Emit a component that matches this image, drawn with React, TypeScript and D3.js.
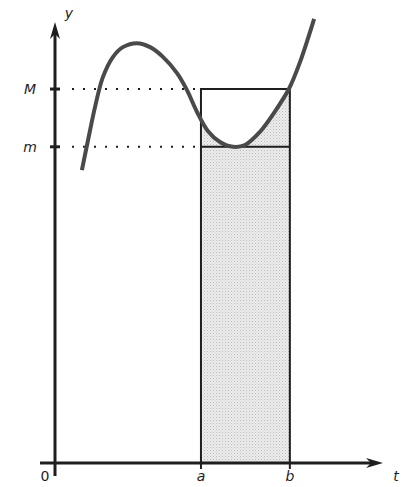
import * as d3 from "d3";
import { useEffect, useRef } from "react";

// curve (t, y) in chart units 0..100
const curveT = [8.2, 10.7, 12.2, 14.6, 17.7, 20.7, 25.0, 29.0, 32.9, 37.2, 40.2, 43.3, 46.6, 50.3, 54.3, 57.9, 62.5, 66.5, 71.3, 74.7, 79.0];
const curveY = [66.4, 75.5, 80.7, 87.5, 92.1, 94.3, 95.2, 94.3, 92.1, 88.4, 84.6, 79.6, 75.3, 72.8, 71.7, 72.1, 75.1, 79.1, 84.8, 90.9, 100.7];

const bounds = { a: 44.5, b: 71.6 };
const levels = { m: 71.7, M: 84.8 };
const xLabels = [["0", 0], ["a", bounds.a], ["b", bounds.b]] as const;
const yLabels = [["M", levels.M], ["m", levels.m]] as const;

export default function App() {
	const ref = useRef<SVGSVGElement>(null);

	useEffect(() => {
		const svg = d3.select(ref.current);
		svg.selectAll("*").remove();

		const x = d3.scaleLinear().domain([0, 100]).range([55, 383]);
		const y = d3.scaleLinear().domain([0, 100]).range([463, 22]);
		const ink = "#1e1e1e";
		const font = "'DejaVu Sans', sans-serif";
		const data = curveT.map((t, i) => [t, curveY[i]] as [number, number]);

		const defs = svg.append("defs");
		defs.append("clipPath").attr("id", "ab")
			.append("rect")
			.attr("x", x(bounds.a)).attr("y", 0)
			.attr("width", x(bounds.b) - x(bounds.a)).attr("height", y(0));
		const pat = defs.append("pattern").attr("id", "stipple")
			.attr("width", 3).attr("height", 3).attr("patternUnits", "userSpaceOnUse");
		pat.append("rect").attr("width", 3).attr("height", 3).attr("fill", "#ececec");
		pat.append("rect").attr("width", 1).attr("height", 1).attr("fill", "#bdbdbd");
		pat.append("rect").attr("x", 1.5).attr("y", 1.5).attr("width", 1).attr("height", 1).attr("fill", "#cfcfcf");

		// shaded area under the curve between a and b
		const area = d3.area<[number, number]>()
			.x(d => x(d[0])).y0(y(0)).y1(d => y(d[1]))
			.curve(d3.curveCatmullRom);
		svg.append("path").datum(data)
			.attr("d", area).attr("fill", "url(#stipple)")
			.attr("clip-path", "url(#ab)");

		// dotted guides
		[levels.M, levels.m].forEach(v => {
			svg.append("line")
				.attr("x1", x(0) + 17).attr("x2", x(bounds.a) - 3)
				.attr("y1", y(v)).attr("y2", y(v))
				.attr("stroke", ink).attr("stroke-width", 2)
				.attr("stroke-dasharray", "2 9").attr("stroke-linecap", "butt");
		});

		// rectangle
		const rect = d3.path();
		rect.moveTo(x(bounds.a), y(0));
		rect.lineTo(x(bounds.a), y(levels.M));
		rect.lineTo(x(bounds.b), y(levels.M));
		rect.lineTo(x(bounds.b), y(0));
		rect.moveTo(x(bounds.a), y(levels.m));
		rect.lineTo(x(bounds.b), y(levels.m));
		svg.append("path").attr("d", rect.toString())
			.attr("fill", "none").attr("stroke", ink).attr("stroke-width", 2);

		// axes
		svg.append("line").attr("x1", 40).attr("x2", x(100) - 8).attr("y1", y(0)).attr("y2", y(0))
			.attr("stroke", ink).attr("stroke-width", 3);
		svg.append("line").attr("x1", x(0)).attr("x2", x(0)).attr("y1", y(0) + 13).attr("y2", y(100) + 8)
			.attr("stroke", ink).attr("stroke-width", 3);
		svg.append("path")
			.attr("d", `M${x(100)},${y(0)} L${x(100) - 17},${y(0) - 5} L${x(100) - 12},${y(0)} L${x(100) - 17},${y(0) + 5} Z`)
			.attr("fill", ink);
		svg.append("path")
			.attr("d", `M${x(0)},${y(100)} L${x(0) - 5},${y(100) + 17} L${x(0)},${y(100) + 12} L${x(0) + 5},${y(100) + 17} Z`)
			.attr("fill", ink);

		// ticks
		yLabels.forEach(([, v]) => {
			svg.append("line").attr("x1", x(0) - 5).attr("x2", x(0) + 5)
				.attr("y1", y(v)).attr("y2", y(v)).attr("stroke", ink).attr("stroke-width", 3);
		});
		[bounds.a, bounds.b].forEach(v => {
			svg.append("line").attr("x1", x(v)).attr("x2", x(v))
				.attr("y1", y(0)).attr("y2", y(0) + 6).attr("stroke", ink).attr("stroke-width", 2);
		});

		// curve
		const line = d3.line<[number, number]>().x(d => x(d[0])).y(d => y(d[1])).curve(d3.curveCatmullRom);
		svg.append("path").datum(data).attr("d", line)
			.attr("fill", "none").attr("stroke", "#4a4a4a").attr("stroke-width", 4)
			.attr("stroke-linecap", "butt");

		// labels
		const lab = (txt: string, px: number, py: number, italic = true) =>
			svg.append("text").attr("x", px).attr("y", py).text(txt)
				.attr("font-family", font).attr("font-size", 14)
				.attr("font-style", italic ? "italic" : "normal")
				.attr("text-anchor", "middle").attr("fill", ink);

		yLabels.forEach(([t, v]) => lab(t, 30, y(v) + 5));
		xLabels.forEach(([t, v]) => lab(t, t === "0" ? x(v) - 10 : x(v), 481, t !== "0"));
		lab("y", x(0) + 14, 18);
		lab("t", 396, 481);
	}, []);

	return <svg ref={ref} width={409} height={487} style={{ position: "absolute", left: 0, top: 0, background: "#fff" }} />;
}
